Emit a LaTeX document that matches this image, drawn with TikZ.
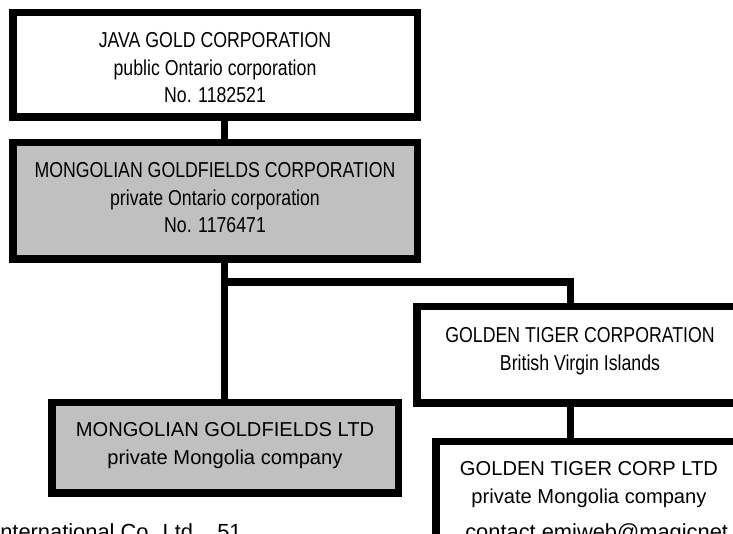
\documentclass[tikz,border=0pt]{standalone}
\usepackage{fontspec}
\setmainfont{Liberation Sans}
\newfontfamily\narrowfont{Liberation Sans}[FakeStretch=0.82]
\definecolor{boxgray}{RGB}{192,192,192}
\begin{document}
\begin{tikzpicture}[x=0.75pt,y=-0.75pt]
\tikzset{
  orgbox/.style={draw=black, line width=5.625pt, inner sep=0pt, fill=white},
  graybox/.style={orgbox, fill=boxgray},
  narrowtxt/.style={anchor=base, inner sep=0pt, font=\narrowfont\fontsize{16.2pt}{19pt}\selectfont},
  plaintxt/.style={anchor=base, inner sep=0pt, font=\fontsize{15.1pt}{18pt}\selectfont},
  foottxt/.style={anchor=base west, inner sep=0pt, font=\fontsize{16.4pt}{19pt}\selectfont},
  link/.style={draw=black, line width=5.625pt}
}
\useasboundingbox (0,0) rectangle (733,534);
\fill[white] (0,0) rectangle (733,534);
\clip (0,0) rectangle (733,534);

% boxes
\node[orgbox, minimum width=303.375pt, minimum height=78.375pt] (b1) at (215,65) {};
\node[graybox, minimum width=303.375pt, minimum height=87.375pt] (b2) at (215,201) {};
\node[orgbox, minimum width=244.875pt, minimum height=72.375pt] (b3) at (580,355) {};
\node[orgbox, minimum width=229.875pt, minimum height=118.6875pt] (b4) at (589,520.875) {};
\node[graybox, minimum width=259.875pt, minimum height=67.875pt] (b5) at (225,448) {};

% connectors
\coordinate (jx) at (224.5,282);
\coordinate (rx) at (570.5,282);
\draw[link] (b1.south -| jx) -- (b2.north -| jx);
\draw[link] (b2.south -| jx) -- (b5.north -| jx);
\draw[link] (jx) -- (rx) -- (b3.north -| rx);
\draw[link] (b3.south -| rx) -- (b4.north -| rx);

% texts
\node[narrowtxt] (t1a) at (215,48) {JAVA GOLD CORPORATION};
\node[narrowtxt] (t1b) at (215,76) {public Ontario corporation};
\node[narrowtxt] (t1c) at (215,103) {No. 1182521};
\node[narrowtxt] (t2a) at (215,178) {MONGOLIAN GOLDFIELDS CORPORATION};
\node[narrowtxt] (t2b) at (215,206) {private Ontario corporation};
\node[narrowtxt] (t2c) at (215,233) {No. 1176471};
\node[narrowtxt] (t3a) at (580,343) {GOLDEN TIGER CORPORATION};
\node[narrowtxt] (t3b) at (580,371) {British Virgin Islands};
\node[plaintxt] (t5a) at (225,437) {MONGOLIAN GOLDFIELDS LTD};
\node[plaintxt] (t5b) at (225,465) {private Mongolia company};
\node[plaintxt] (t4a) at (589,476) {GOLDEN TIGER CORP LTD};
\node[plaintxt] (t4b) at (589,504) {private Mongolia company};
\node[foottxt] (t4c) at (465,539.5) {contact emiweb@magicnet.mn};
\node[foottxt] (n1) at (0,540) {nternational Co. Ltd.};
\node[foottxt] (n2) at (217,540) {51};
\end{tikzpicture}
\end{document}
